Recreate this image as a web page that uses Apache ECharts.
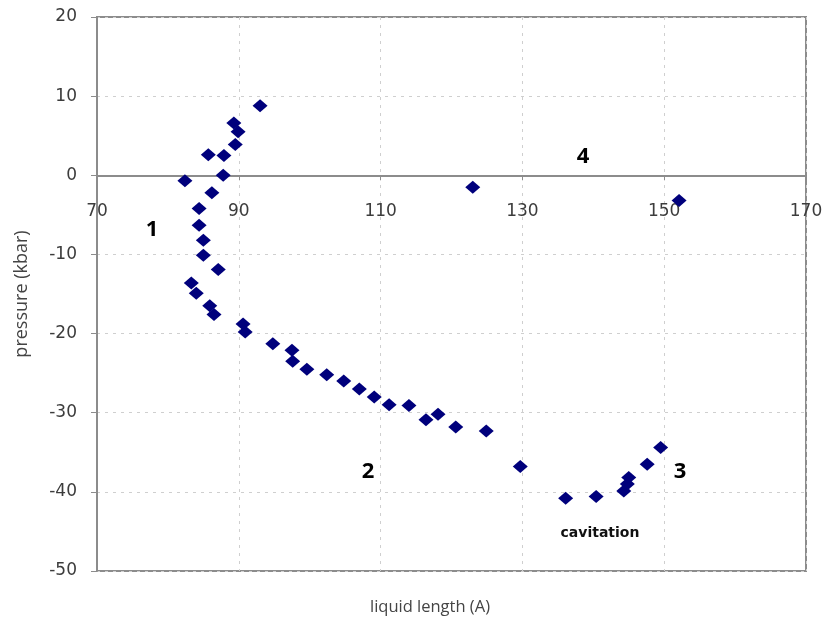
<!DOCTYPE html>
<html>
<head>
<meta charset="utf-8">
<script src="https://cdn.jsdelivr.net/npm/echarts@6/dist/echarts.min.js"></script>
<style>
html,body{margin:0;padding:0;background:#fff;}
#main{width:826px;height:619px;}
</style>
</head>
<body>
<div id="main"></div>
<script>
// liquid length (A)
var liquidLength = [
  93.0, 89.3, 89.9, 89.5, 85.7, 87.9, 87.8, 82.4, 86.2, 84.4,
  84.4, 85.0, 85.0, 87.1, 83.3, 84.0, 85.9, 86.5, 90.6, 90.9,
  94.8, 97.5, 97.6, 99.6, 102.4, 104.8, 107.0, 109.1, 111.2, 114.0,
  116.4, 118.1, 120.6, 124.9, 129.7, 136.1, 140.4, 144.3, 144.8, 145.0,
  147.6, 149.5, 123.0, 152.1
];
// pressure (kbar)
var pressure = [
  8.8, 6.6, 5.5, 3.9, 2.6, 2.5, 0.0, -0.7, -2.2, -4.2,
  -6.3, -8.2, -10.1, -11.9, -13.6, -14.9, -16.5, -17.6, -18.8, -19.8,
  -21.3, -22.1, -23.5, -24.5, -25.2, -26.0, -27.0, -28.0, -29.0, -29.1,
  -30.9, -30.2, -31.8, -32.3, -36.8, -40.8, -40.6, -39.9, -39.0, -38.2,
  -36.5, -34.4, -1.5, -3.2
];
var xTicks = {min: 70, max: 170, interval: 20};
var yTicks = {min: -50, max: 20, interval: 10};
var annotations = ["1", "2", "3", "4", "cavitation"];

var points = liquidLength.map(function (x, i) { return [x, pressure[i]]; });

var W = 826, H = 619, gTop = 17, gBottom = 48;
var gridH = H - gTop - gBottom;
// shift the x axis (line, ticks, labels) up to the y = 0 level, as in the source chart
var zeroShift = -gridH * (0 - yTicks.min) / (yTicks.max - yTicks.min);

var chart = echarts.init(document.getElementById('main'));
var labelFont = 'DejaVu Sans';
chart.setOption({
  animation: false,
  backgroundColor: '#ffffff',
  grid: {left: 97, right: 20, top: gTop, bottom: gBottom, show: true, borderColor: '#8c8c8c', borderWidth: 2, backgroundColor: 'transparent'},
  xAxis: {
    type: 'value', min: xTicks.min, max: xTicks.max, interval: xTicks.interval,
    position: 'bottom', offset: zeroShift,
    axisLine: {show: true, onZero: false, lineStyle: {color: '#8c8c8c', width: 2}},
    axisTick: {show: true, length: 5, lineStyle: {color: '#8c8c8c', width: 1}},
    axisLabel: {color: '#3c3c3c', fontSize: 17, fontFamily: labelFont, margin: 28},
    splitLine: {show: true, lineStyle: {color: '#cfcfcf', type: [3, 5], width: 1}}
  },
  yAxis: {
    type: 'value', min: yTicks.min, max: yTicks.max, interval: yTicks.interval,
    axisLine: {show: true, onZero: false, lineStyle: {color: '#8c8c8c', width: 2}},
    axisTick: {show: true, length: 6, lineStyle: {color: '#8c8c8c', width: 1}},
    axisLabel: {color: '#3c3c3c', fontSize: 17, fontFamily: labelFont, margin: 20},
    splitLine: {show: true, lineStyle: {color: '#cfcfcf', type: [3, 5], width: 1}},
    name: 'pressure (kbar)', nameLocation: 'middle', nameGap: 66,
    nameTextStyle: {color: '#444', fontSize: 18, fontFamily: 'Open Sans'}
  },
  series: [{
    type: 'scatter',
    data: points,
    symbol: 'diamond',
    symbolSize: [15, 13],
    itemStyle: {color: '#00007c', opacity: 1}
  }],
  graphic: [
    {type: 'text', x: 430, y: 607, style: {text: 'liquid length (A)', fill: '#444', font: '16.5px "Open Sans"', align: 'center', verticalAlign: 'middle'}},
    {type: 'text', x: 152, y: 230, style: {text: annotations[0], fill: '#000', font: 'bold 22px "Open Sans"', align: 'center', verticalAlign: 'middle'}},
    {type: 'text', x: 368, y: 472, style: {text: annotations[1], fill: '#000', font: 'bold 22px "Open Sans"', align: 'center', verticalAlign: 'middle'}},
    {type: 'text', x: 680, y: 472, style: {text: annotations[2], fill: '#000', font: 'bold 22px "Open Sans"', align: 'center', verticalAlign: 'middle'}},
    {type: 'text', x: 583, y: 157, style: {text: annotations[3], fill: '#000', font: 'bold 22px "Open Sans"', align: 'center', verticalAlign: 'middle'}},
    {type: 'text', x: 600, y: 533, style: {text: annotations[4], fill: '#111', font: 'bold 14px "DejaVu Sans"', align: 'center', verticalAlign: 'middle'}}
  ]
});
</script>
</body>
</html>
